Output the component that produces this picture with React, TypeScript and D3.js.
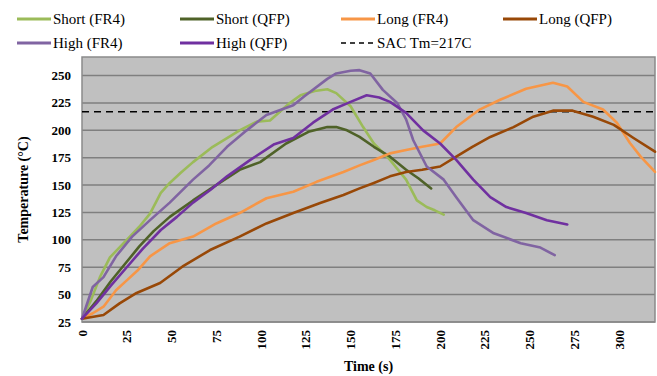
import React from "react";
import * as d3 from "d3";

// Reflow temperature profiles (time in s, temperature in °C)
const timeShortFR4 = [0, 5, 10, 15.6, 25, 32, 38, 44, 49, 55, 62, 73, 81, 88, 97.6, 105, 116, 122, 130, 137, 142, 150, 157, 163, 172, 181, 187, 192.5, 197, 202];
const tempShortFR4 = [28, 45, 66, 84, 100, 112, 124, 143, 152, 161, 171, 185, 193, 200, 208, 209, 225, 232, 236, 237.5, 234, 222, 203, 188, 173, 155, 136, 130, 127, 123];

const timeShortQFP = [0, 8, 16, 25, 32, 40, 49, 62, 73, 88, 99.5, 114, 127, 137, 142, 148, 155, 163, 172, 181, 188, 195];
const tempShortQFP = [28, 44, 62, 80, 94, 108, 121, 136, 148, 164, 171, 188, 199, 203, 203, 200, 194, 185, 176, 164, 156, 147];

const timeLongFR4 = [0, 6, 12, 19, 25, 31, 38, 49, 62, 75, 88, 103, 118, 131, 146, 155, 163, 172, 181, 190, 200, 209, 222, 233.5, 248, 263, 271, 280, 291, 298.7, 306, 312, 320];
const tempLongFR4 = [28, 33, 39, 54, 63, 72, 85, 97, 103, 115, 124.5, 138, 144, 153, 162, 168, 173, 179, 182, 185, 188, 203, 219, 228, 238, 243.5, 240, 226, 219, 207, 188.5, 176, 162];

const timeLongQFP = [0, 12, 21, 30.5, 43.6, 56, 71.5, 88, 103, 118, 133, 146, 155, 163, 172, 181, 190, 200, 209, 218, 228, 241, 252, 263, 274, 285.5, 297, 308, 320];
const tempLongQFP = [28, 31.4, 42, 51.5, 60.6, 75.5, 90.7, 103, 115, 124.5, 133.6, 141, 147, 152, 158, 162, 164, 167, 176, 185, 194, 203, 212.5, 218, 218, 212.5, 205, 193, 180.5];

const timeHighFR4 = [0, 6, 12, 19, 28, 38, 49, 62, 71, 81, 92, 103, 118, 124, 137, 142, 150, 155, 161, 168, 176, 181, 185, 192.5, 202, 209, 218.5, 230, 245, 256, 264];
const tempHighFR4 = [28, 57, 66, 85, 103, 118, 134, 155, 168, 185, 200, 214, 223, 231, 247, 252, 254.5, 255, 252, 237, 225, 210, 191, 167, 155, 139, 118, 106, 97, 93, 86];

const timeHighQFP = [0, 8, 16, 25, 34, 44, 53, 62, 72, 81, 94, 107, 118, 129, 140, 150, 159, 166, 172, 181, 190.5, 200, 209, 218.5, 228, 237, 248, 259.6, 271];
const tempHighQFP = [28, 42, 58, 75, 92, 109, 121, 134, 146, 158, 173, 187, 193, 207, 219, 226, 232, 230, 226, 216, 200, 188, 173, 155, 139, 130, 124.5, 118, 114];

const seriesNames = ["Short (FR4)", "Short (QFP)", "Long (FR4)", "Long (QFP)", "High (FR4)", "High (QFP)"];
const seriesColors = ["#9BBB59", "#4F6228", "#F79646", "#984807", "#8064A2", "#7030A0"];
const seriesTimes = [timeShortFR4, timeShortQFP, timeLongFR4, timeLongQFP, timeHighFR4, timeHighQFP];
const seriesTemps = [tempShortFR4, tempShortQFP, tempLongFR4, tempLongQFP, tempHighFR4, tempHighQFP];

const sacLabel = "SAC Tm=217C";
const sacTemp = 217;

const xTicks = [0, 25, 50, 75, 100, 125, 150, 175, 200, 225, 250, 275, 300];
const yTicks = [25, 50, 75, 100, 125, 150, 175, 200, 225, 250];

const W = 657;
const H = 376;
const plot = { left: 82, right: 655, top: 57, bottom: 322 };
const font = '"Liberation Serif", "DejaVu Serif", serif';

export default function App() {
  const x = d3.scaleLinear().domain([0, 320]).range([plot.left, plot.right]);
  const y = d3.scaleLinear().domain([25, 267]).range([plot.bottom, plot.top]);

  const line = d3
    .line<[number, number]>()
    .x((d) => x(d[0]))
    .y((d) => y(d[1]));

  // legend slots: 4 per row
  const legendItems = [
    ...seriesNames.map((name, i) => ({ name, color: seriesColors[i], dashed: false })),
    { name: sacLabel, color: "#000", dashed: true },
  ];
  const colX = [17, 180, 341, 503];
  const rowY = [19, 43];

  const txt = { fontFamily: font };

  return (
    <svg
      width={W}
      height={H}
      style={{ position: "absolute", left: 0, top: 0, background: "#fff", fontFamily: font }}
    >
      <rect x={plot.left} y={plot.top} width={plot.right - plot.left} height={plot.bottom - plot.top} fill="#C0C0C0" />
      {yTicks.map((t) => (
        <line key={t} x1={plot.left} x2={plot.right} y1={y(t)} y2={y(t)} stroke="#7f7f7f" strokeWidth={1.5} />
      ))}
      <rect
        x={plot.left}
        y={plot.top}
        width={plot.right - plot.left}
        height={plot.bottom - plot.top}
        fill="none"
        stroke="#8a8a8a"
        strokeWidth={1.5}
      />

      {/* axis labels */}
      {yTicks.map((t) => (
        <text key={t} x={71} y={y(t) + 4.5} textAnchor="end" fontSize={13} fontWeight="bold" fill="#000" style={txt}>
          {t}
        </text>
      ))}
      {xTicks.map((t) => (
        <text
          key={t}
          transform={`translate(${x(t) + 4.5},${plot.bottom + 8}) rotate(-90)`}
          textAnchor="end"
          fontSize={13}
          fontWeight="bold"
          fill="#000"
          style={txt}
        >
          {t}
        </text>
      ))}
      <text
        transform={`translate(28,${(plot.top + plot.bottom) / 2}) rotate(-90)`}
        textAnchor="middle"
        fontSize={14}
        fontWeight="bold"
        style={txt}
      >
        Temperature (°C)
      </text>
      <text x={(plot.left + plot.right) / 2} y={371} textAnchor="middle" fontSize={14} fontWeight="bold" style={txt}>
        Time (s)
      </text>

      {/* melting point reference */}
      <line
        x1={plot.left}
        x2={plot.right}
        y1={y(sacTemp)}
        y2={y(sacTemp)}
        stroke="#000"
        strokeWidth={1.6}
        strokeDasharray="7,5"
      />

      {seriesNames.map((name, i) => (
        <path
          key={name}
          d={line(seriesTimes[i].map((t, j) => [t, seriesTemps[i][j]] as [number, number])) || ""}
          fill="none"
          stroke={seriesColors[i]}
          strokeWidth={2.6}
          strokeLinejoin="round"
          strokeLinecap="round"
        />
      ))}

      {/* legend */}
      {legendItems.map((item, i) => {
        const lx = colX[i % 4];
        const ly = rowY[Math.floor(i / 4)];
        return (
          <g key={item.name}>
            <line
              x1={lx}
              x2={lx + 34}
              y1={ly}
              y2={ly}
              stroke={item.color}
              strokeWidth={item.dashed ? 1.6 : 3}
              strokeDasharray={item.dashed ? "5,4" : undefined}
            />
            <text x={lx + 36} y={ly + 5} fontSize={15} fill="#000" style={txt}>
              {item.name}
            </text>
          </g>
        );
      })}
    </svg>
  );
}
